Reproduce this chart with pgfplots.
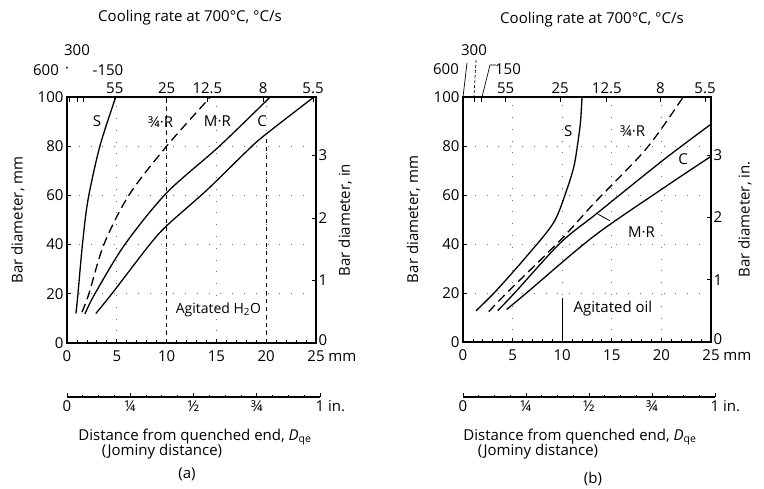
\documentclass[border=0pt]{standalone}
\usepackage{pgfplots}
\pgfplotsset{compat=1.18}
\usepackage{fontspec}
\setmainfont{Open Sans}
\begin{document}
\begin{tikzpicture}[font=\fontsize{15}{17}\selectfont]
\useasboundingbox (0pt,0pt) rectangle (764pt,489pt);
\pgfplotsset{
  base/.style={scale only axis, anchor=origin,
    /pgf/number format/assume math mode=true,
    axis line style={line width=1.1pt},
    tick style={black, line width=0.8pt},
    major tick length=4pt, minor tick length=2.5pt,
    tick align=inside,
    font=\fontsize{15}{17}\selectfont,
    ticklabel style={font=\fontsize{15}{17}\selectfont}},
  main/.style={base, xmin=0,xmax=25,ymin=0,ymax=100,
    xtick={0,5,...,25}, xticklabels={0,5,10,15,20,{25\rlap{ mm}}},
    ytick={0,20,...,100},
    xtick pos=lower, ytick pos=left,
    minor x tick num=4,
    grid=major, major grid style={black!55, line width=0.8pt, dash pattern=on 0.8pt off 11pt},
    ylabel={Bar diameter, mm},
    xticklabel style={yshift=-4pt}},
  inchax/.style={base, xmin=0,xmax=25,ymin=0,ymax=3.937,
    hide x axis, axis y line*=right, ytick={0,1,2,3,4},
    yticklabels={\raisebox{6pt}{0},1,2,3,4},
    yticklabel style={xshift=-1pt}},
  topax/.style={base, xmin=0,xmax=25,ymin=0,ymax=100,
    hide y axis, axis x line*=top, major tick length=5pt},
  botin/.style={base, height=10pt, xmin=0,xmax=1,ymin=0,ymax=1,
    hide y axis, axis x line*=bottom,
    xtick={0,0.25,0.5,0.75,1},
    xticklabels={0,¼,½,¾,{1\rlap{ in.}}},
    minor x tick num=3, minor tick length=2pt, major tick length=4pt},
  curve/.style={black, line width=1.3pt, no marks, smooth},
  dcurve/.style={black, line width=1.3pt, no marks, smooth, dash pattern=on 9pt off 5pt},
}
% ---------------- (a) water ----------------
\begin{axis}[main, at={(67pt,146pt)}, width=249pt, height=246pt,
  ylabel style={at={(axis description cs:-0.197,0.5)}, anchor=center}]
\addplot[black, line width=0.9pt, dash pattern=on 4pt off 4pt] coordinates {(10,0) (10,100)};
\addplot[black, line width=0.9pt, dash pattern=on 4pt off 4pt] coordinates {(20,0) (20,84)};
\addplot[curve] coordinates {(0.9,12) (1.1,20) (1.55,40) (2.1,58) (3.3,80) (4.9,100)};
\addplot[dcurve] coordinates {(1.5,12.5) (2.2,20) (3.7,40) (6.2,60) (10.0,80) (14.4,100)};
\addplot[curve] coordinates {(1.8,11.8) (2.8,20) (5.8,40) (10.0,61) (15.3,80) (20.4,100)};
\addplot[curve] coordinates {(2.9,12) (4.5,20) (8.3,40) (10.1,48) (14,62) (17.8,77) (19.7,84) (24.8,100)};
\node at (axis cs:3.0,90) {S};
\node at (axis cs:9.4,90) {¾·R};
\node at (axis cs:15.1,90) {M·R};
\node at (axis cs:19.6,90) {C};
\node[font=\fontsize{14}{16}\selectfont] at (axis cs:15.2,13.4) {Agitated H\textsubscript{2}O};
\end{axis}
\begin{axis}[inchax, at={(67pt,146pt)}, width=249pt, height=246pt,
  ylabel={Bar diameter, in}, ylabel style={at={(axis description cs:1.117,0.5)}, anchor=center}]
\end{axis}
\begin{axis}[topax, at={(67pt,146pt)}, width=249pt, height=246pt,
  xtick={0.2,1.0,1.6,4.8,10.0,14.1,19.7,24.7},
  xticklabels={,,,55,25,12.5,8,5.5}]
\end{axis}
\begin{axis}[botin, at={(67pt,92pt)}, width=253pt]
\end{axis}
\node at (77pt,439pt) {300};
\node at (46pt,419pt) {600};
\node at (67pt,419pt) {·};
\node at (108pt,419pt) {-150};
\node at (190pt,471pt) {Cooling rate at 700°C, °C/s};
\node at (195pt,52pt) {Distance from quenched end, \textit{D}\textsubscript{qe}};
\node at (162pt,37pt) {(Jominy distance)};
\node at (187pt,15pt) {(a)};
% ---------------- (b) oil ----------------
\begin{axis}[main, at={(463pt,147pt)}, width=248pt, height=245pt,
  ylabel style={at={(axis description cs:-0.2,0.5)}, anchor=center}]
\addplot[black, line width=0.9pt] coordinates {(10,0) (10,18)};
\addplot[curve] coordinates {(1.3,12.7) (3.2,20.3) (6.1,33.5) (9.1,48.5) (10.45,62) (11.2,72) (11.6,82) (11.85,90) (12.0,100)};
\addplot[dcurve] coordinates {(2.6,12.4) (4.4,20) (9.8,41.5) (13.3,57) (18.5,79) (22.2,100)};
\addplot[curve] coordinates {(3.5,12.8) (5.2,20) (9.8,40.4) (13.5,52.5) (20.2,74.3) (24.9,88.6)};
\addplot[curve] coordinates {(4.4,13.3) (6.4,20) (13.1,42.9) (19.9,62) (24.9,75.5)};
\node at (axis cs:10.6,86) {S};
\node at (axis cs:17.1,86) {¾·R};
\node at (axis cs:22.2,74.5) {C};
\node at (axis cs:18.0,45) {M·R};
\draw[black, line width=0.8pt] (axis cs:14.8,49.5) -- (axis cs:13.6,52.2);
\node[anchor=west] at (axis cs:10.8,13.5) {Agitated oil};
\end{axis}
\begin{axis}[inchax, at={(463pt,147pt)}, width=248pt, height=245pt,
  ylabel={Bar diameter, in.}, ylabel style={at={(axis description cs:1.137,0.5)}, anchor=center}]
\end{axis}
\begin{axis}[topax, at={(463pt,147pt)}, width=248pt, height=245pt,
  xtick={0.05,1.1,1.9,4.3,9.8,14.5,19.9,24.4},
  xticklabels={,,,55,25,12.5,8,5.5}]
\end{axis}
\begin{axis}[botin, at={(463pt,92pt)}, width=252pt]
\end{axis}
\node at (474pt,439pt) {300};
\node at (446pt,420pt) {600};
\node at (508pt,420pt) {150};
\draw[line width=0.7pt] (467pt,426pt) -- (463pt,392pt);
\draw[line width=0.7pt, dash pattern=on 3pt off 2pt] (476pt,429pt) -- (474pt,392pt);
\draw[line width=0.7pt] (496pt,424pt) -- (490pt,424pt) -- (482pt,392pt);
\node at (592pt,469pt) {Cooling rate at 700°C, °C/s};
\node at (580pt,52pt) {Distance from quenched end, \textit{D}\textsubscript{qe}};
\node at (538pt,37pt) {(Jominy distance)};
\node at (593pt,10pt) {(b)};
\end{tikzpicture}
\end{document}
